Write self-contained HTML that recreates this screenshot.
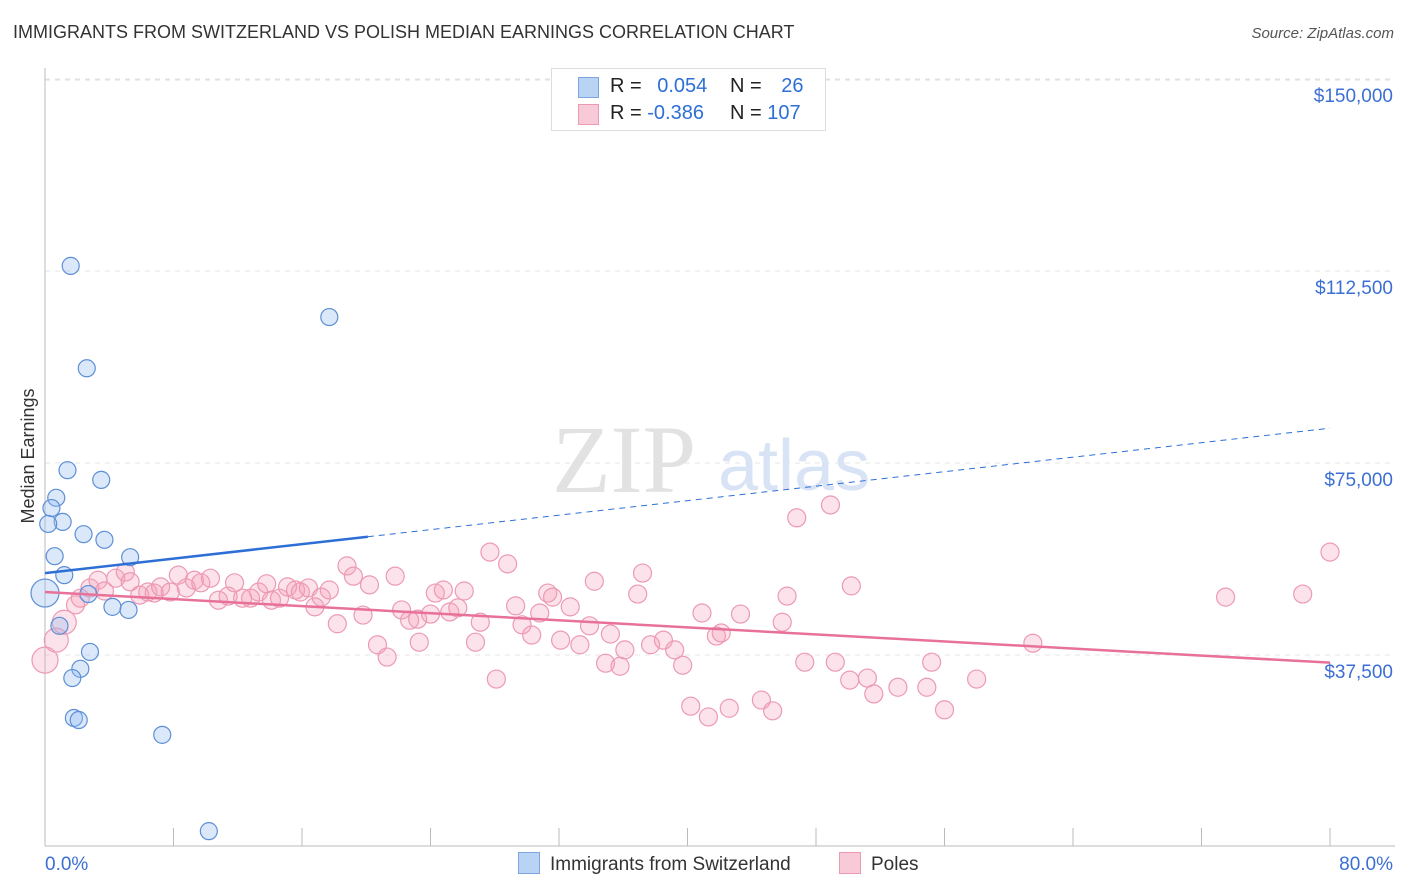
<!DOCTYPE html>
<html><head><meta charset="utf-8"><style>
body{margin:0;background:#fff;font-family:"Liberation Sans",sans-serif}
#wrap{position:relative;width:1406px;height:892px;overflow:hidden}
.t{position:absolute;white-space:nowrap}
</style></head><body><div id="wrap">
<div class="t" style="left:13px;top:22px;font-size:18px;color:#333">IMMIGRANTS FROM SWITZERLAND VS POLISH MEDIAN EARNINGS CORRELATION CHART</div>
<div class="t" style="right:12px;top:25px;font-size:15px;color:#555;font-style:italic">Source: ZipAtlas.com</div>
<svg id="svg" width="1406" height="892" style="position:absolute;left:0;top:0"></svg>
</div>
<script>
const yTicks=[37500,75000,112500,150000];
const yTickLabels=["$37,500","$75,000","$112,500","$150,000"];
const xLabels=["0.0%","80.0%"];
const blueX=[1.6,17.7,2.6,1.4,0.7,3.5,0.4,1.1,0.2,2.4,3.7,0.6,5.3,1.2,2.7,0,4.2,5.2,0.9,2.8,2.2,1.7,1.8,2.1,7.3,10.2];
const blueY=[113.5,103.5,93.5,73.6,68.2,71.7,66.2,63.5,63.1,61.1,60.0,56.8,56.6,53.1,49.4,49.6,46.9,46.3,43.2,38.1,34.8,33.0,25.2,24.8,21.9,3.1];
const pinkX=[0,0.7,1.2,1.9,2.2,2.8,3.3,3.7,4.4,5.0,5.3,5.9,6.4,6.8,7.2,7.8,8.3,8.8,9.3,9.7,10.3,10.8,11.4,11.8,12.3,12.8,13.3,13.8,14.1,14.6,15.1,15.6,15.9,16.4,16.8,17.2,17.7,18.2,18.8,19.2,19.8,20.2,20.7,21.3,21.8,22.2,22.7,23.2,23.3,24.0,24.3,24.8,25.2,25.7,26.1,26.8,27.1,27.7,28.1,28.8,29.3,29.7,30.3,30.8,31.3,31.6,32.1,32.7,33.3,33.9,34.2,34.9,35.2,35.8,36.1,36.9,37.2,37.7,38.5,39.2,39.7,40.2,40.9,41.3,41.8,42.1,42.6,43.3,44.6,45.3,45.9,46.2,46.8,47.3,48.9,49.2,50.1,50.2,51.2,51.6,53.1,54.9,55.2,56.0,58.0,61.5,73.5,78.3,80.0];
const pinkY=[36.5,40.4,43.9,47.3,48.6,50.6,52.1,50.0,52.5,53.7,51.8,49.2,49.8,49.6,50.8,49.8,53.1,50.6,52.1,51.6,52.5,48.2,49.0,51.6,48.6,48.6,49.8,51.4,48.2,48.6,50.8,50.2,49.8,50.6,46.9,48.8,50.2,43.6,54.9,52.9,45.3,51.2,39.5,37.1,52.9,46.3,44.3,44.5,40.0,45.5,49.6,50.2,45.9,46.7,50.0,40.0,43.9,57.6,32.8,55.3,47.1,43.4,41.4,45.7,49.6,48.8,40.4,46.9,39.5,43.2,51.9,35.9,41.6,35.3,38.5,49.4,53.5,39.5,40.4,38.5,35.5,27.5,45.7,25.4,41.2,41.8,27.1,45.5,28.7,26.6,43.9,49.0,64.3,36.1,66.8,36.1,32.6,51.0,33.0,29.9,31.2,31.2,36.1,26.8,32.8,39.8,48.8,49.4,57.6];
const blueTrend=[[0,53.5],[20.1,60.6],[80,81.8]];
const pinkTrend=[[0,49.8],[80,36.0]];
const X=v=>45+v/80*1285, Y=v=>847-v*1000/37500*192;
const s=document.getElementById('svg'),NS='http://www.w3.org/2000/svg';
function mk(t,a){const e=document.createElementNS(NS,t);for(const k in a)e.setAttribute(k,a[k]);s.appendChild(e);return e;}
let e;
e=mk('line',{x1:45,y1:80,x2:1395,y2:80,stroke:'#ddd','stroke-dasharray':'5,5'});


yTicks.forEach((v,i)=>{
 e=mk('line',{x1:45,y1:Y(v/1000),x2:1395,y2:Y(v/1000),stroke:'#e4e4e4','stroke-dasharray':'5,5'});
 
 
 e=mk('text',{x:1393,y:Y(v/1000)+23,'text-anchor':'end','font-size':19,fill:'#3b6fd4','font-family':'Liberation Sans'});
 e.textContent=yTickLabels[i];
 
 
});
e=mk('line',{x1:45,y1:68,x2:45,y2:846,stroke:'#bbb'});


e=mk('line',{x1:45,y1:846,x2:1395,y2:846,stroke:'#bbb'});


for(let i=1;i<=10;i++){e=mk('line',{x1:X(i*8),y1:828,x2:X(i*8),y2:846,stroke:'#bbb'});
 
 }
e=mk('text',{x:45,y:870,'font-size':19,fill:'#3b6fd4','font-family':'Liberation Sans'});e.textContent=xLabels[0];


e=mk('text',{x:1393,y:870,'text-anchor':'end','font-size':19,fill:'#3b6fd4','font-family':'Liberation Sans'});e.textContent=xLabels[1];


e=mk('text',{x:34,y:456,'text-anchor':'middle','font-size':18,fill:'#333',transform:'rotate(-90 34 456)','font-family':'Liberation Sans'});e.textContent='Median Earnings';


e=mk('text',{x:552,y:492,'font-size':96,fill:'#e2e2e2','font-family':'Liberation Serif'});e.textContent='ZIP';


e=mk('text',{x:718,y:490,'font-size':72,fill:'#d8e4f6','font-family':'Liberation Sans'});e.textContent='atlas';


pinkX.forEach((x,i)=>{const r=i<3?(i==0?13:12):9;
 e=mk('circle',{cx:X(x),cy:Y(pinkY[i]),r:r,fill:'rgba(244,160,186,0.3)',stroke:'#ec9ab3','stroke-width':1.2});
 
 });
blueX.forEach((x,i)=>{const r=(i==15)?14:8.5;
 e=mk('circle',{cx:X(x),cy:Y(blueY[i]),r:r,fill:'rgba(150,190,240,0.35)',stroke:'#5e8fd6','stroke-width':1.2});
 
 });
e=mk('line',{x1:X(blueTrend[0][0]),y1:Y(blueTrend[0][1]),x2:X(blueTrend[1][0]),y2:Y(blueTrend[1][1]),stroke:'#2e6fd6','stroke-width':2.5});


e=mk('line',{x1:X(blueTrend[1][0]),y1:Y(blueTrend[1][1]),x2:X(blueTrend[2][0]),y2:Y(blueTrend[2][1]),stroke:'#2e6fd6','stroke-width':1,'stroke-dasharray':'6,5'});


e=mk('line',{x1:X(pinkTrend[0][0]),y1:Y(pinkTrend[0][1]),x2:X(pinkTrend[1][0]),y2:Y(pinkTrend[1][1]),stroke:'#e8719a','stroke-width':2.5});


</script>
<div class="t" style="left:551px;top:68px;width:273px;height:61px;border:1px solid #ddd;background:#fff;font-size:20px;color:#222">
 <div style="position:absolute;left:26px;top:8px;width:19px;height:19px;background:#b9d3f5;border:1px solid #7da6e0"></div>
 <div class="t" style="left:58px;top:6px">R = <span style="color:#2e6fd6;margin-left:10px">0.054</span></div>
 <div class="t" style="left:178px;top:6px">N = <span style="color:#2e6fd6;margin-left:14px">26</span></div>
 <div style="position:absolute;left:26px;top:35px;width:19px;height:19px;background:#f8c9d6;border:1px solid #ec9ab3"></div>
 <div class="t" style="left:58px;top:33px">R = <span style="color:#2e6fd6">-0.386</span></div>
 <div class="t" style="left:178px;top:33px">N = <span style="color:#2e6fd6">107</span></div>
</div>
<div class="t" style="left:518px;top:852px;font-size:19px;color:#333"><span style="display:inline-block;width:20px;height:20px;background:#b9d3f5;border:1px solid #7da6e0;vertical-align:-4px;margin-right:10px"></span>Immigrants from Switzerland</div>
<div class="t" style="left:839px;top:852px;font-size:19px;color:#333"><span style="display:inline-block;width:20px;height:20px;background:#f8c9d6;border:1px solid #ec9ab3;vertical-align:-4px;margin-right:10px"></span>Poles</div>
</body></html>
